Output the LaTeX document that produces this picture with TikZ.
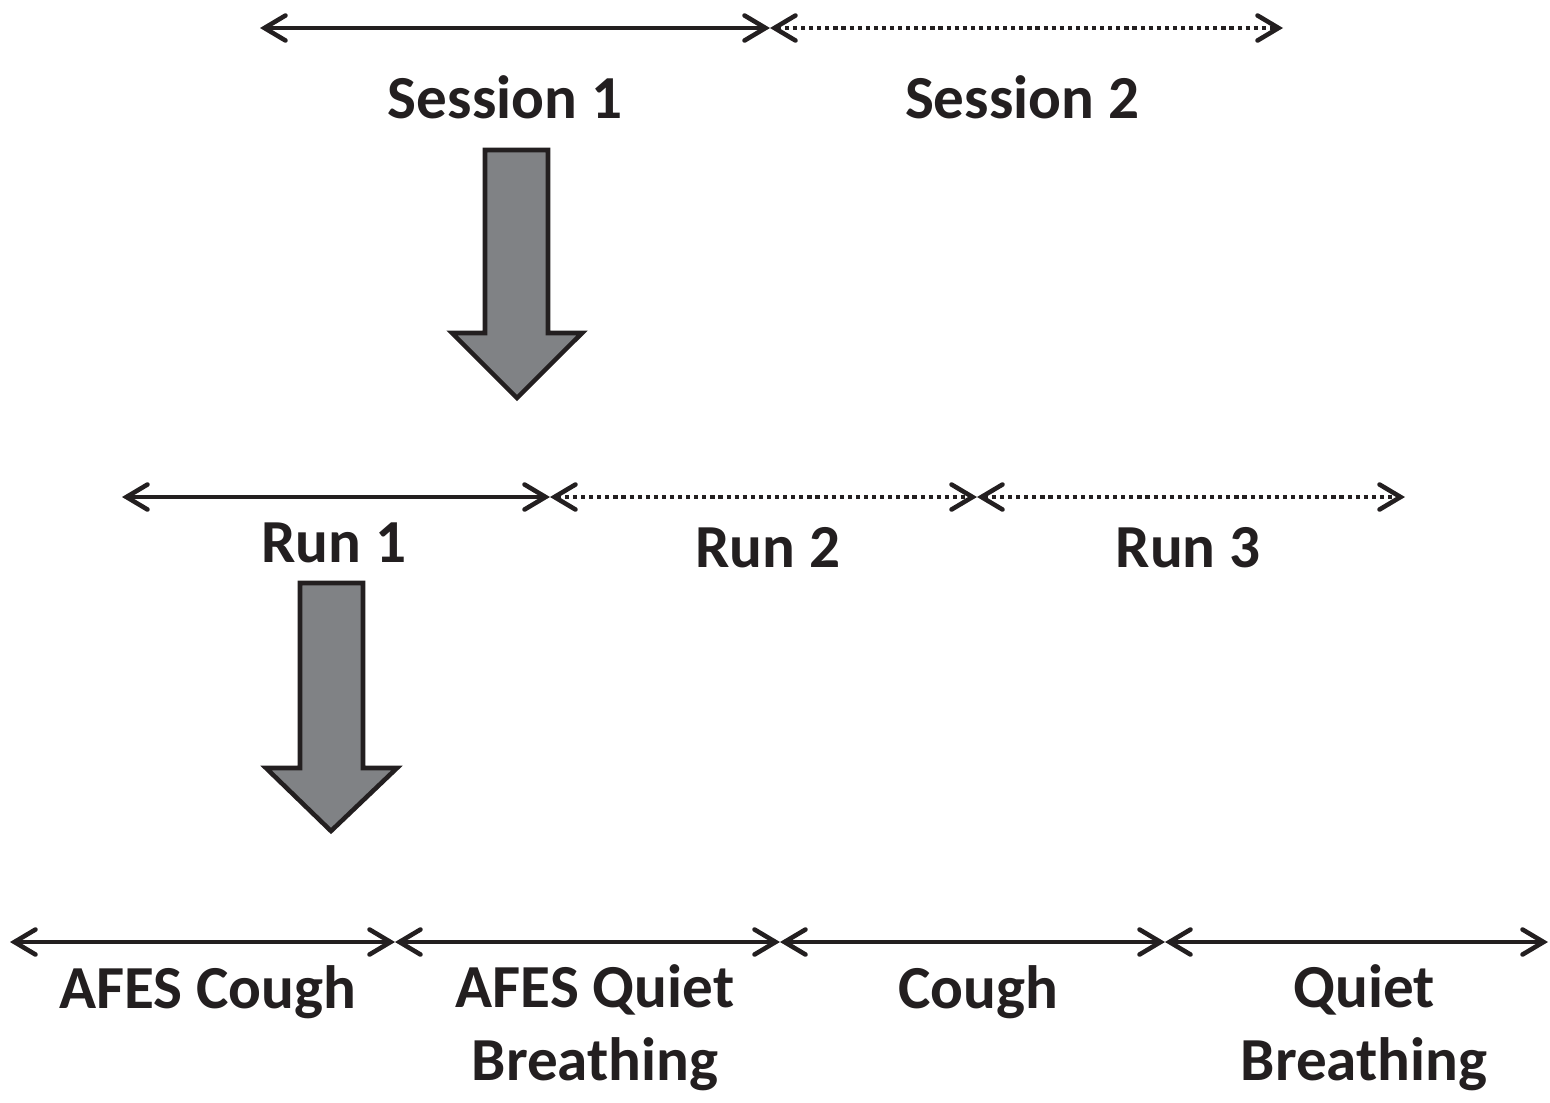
\documentclass[tikz,border=0pt]{standalone}
\usepackage{fontspec}
\setmainfont{Carlito}
\usepackage{xcolor}
\usetikzlibrary{arrows.meta}
\definecolor{Ink}{HTML}{231F20}
\definecolor{ArrowGray}{HTML}{808285}
\tikzset{
  span/.style={draw=Ink,line width=1.3pt,line cap=round,
    {Straight Barb[length=2.1mm,width=2.5mm,line cap=round]}-{Straight Barb[length=2.1mm,width=2.5mm,line cap=round]}},
  dotspan/.style={span,line cap=butt,dash pattern=on 1.2pt off 1.1pt},
  lbl/.style={font=\bfseries\fontsize{17.4}{20.5}\selectfont,text=Ink,align=center,anchor=base},
  bigarrow/.style={draw=Ink,line width=1.3pt,fill=ArrowGray,line join=miter}
}

\begin{document}
\begin{tikzpicture}
     \useasboundingbox (0,0) rectangle (15.5,-11.02);

     % sessions
     \coordinate (s0) at (2.60,-0.28);
     \coordinate (s1) at (7.70,-0.28);
     \coordinate (s2) at (12.83,-0.28);
     \draw[span] (s0) -- (s1);
     \draw[dotspan] (s1) -- (s2);
     \node[lbl] (session1) at (5.05,-1.18) {Session 1};
     \node[lbl] (session2) at (10.22,-1.18) {Session 2};

     \draw[bigarrow] (4.85,-1.50) -- (5.48,-1.50) -- (5.48,-3.33) -- (5.82,-3.33)
          -- (5.17,-3.98) -- (4.52,-3.33) -- (4.85,-3.33) -- cycle;

     % runs
     \coordinate (r0) at (1.22,-4.97);
     \coordinate (r1) at (5.50,-4.97);
     \coordinate (r2) at (9.77,-4.97);
     \coordinate (r3) at (14.05,-4.97);
     \draw[span] (r0) -- (r1);
     \draw[dotspan] (r1) -- (r2);
     \draw[dotspan] (r2) -- (r3);
     \node[lbl] (run1) at (3.34,-5.62) {Run 1};
     \node[lbl] (run2) at (7.68,-5.67) {Run 2};
     \node[lbl] (run3) at (11.88,-5.67) {Run 3};

     \draw[bigarrow] (3.00,-5.83) -- (3.63,-5.83) -- (3.63,-7.68) -- (3.97,-7.68)
          -- (3.31,-8.31) -- (2.66,-7.68) -- (3.00,-7.68) -- cycle;

     % conditions
     \coordinate (c0) at (0.10,-9.42);
     \coordinate (c1) at (3.95,-9.42);
     \coordinate (c2) at (7.80,-9.42);
     \coordinate (c3) at (11.65,-9.42);
     \coordinate (c4) at (15.48,-9.42);
     \draw[span] (c0) -- (c1);
     \draw[span] (c1) -- (c2);
     \draw[span] (c2) -- (c3);
     \draw[span] (c3) -- (c4);
     \node[lbl] (afescough) at (2.08,-10.08) {AFES Cough};
     \node[lbl] (afesquiet) at (5.95,-10.80) {AFES Quiet\\Breathing};
     \node[lbl] (cough) at (9.78,-10.08) {Cough};
     \node[lbl] (quiet) at (13.64,-10.80) {Quiet\\Breathing};
    \end{tikzpicture}
\end{document}
